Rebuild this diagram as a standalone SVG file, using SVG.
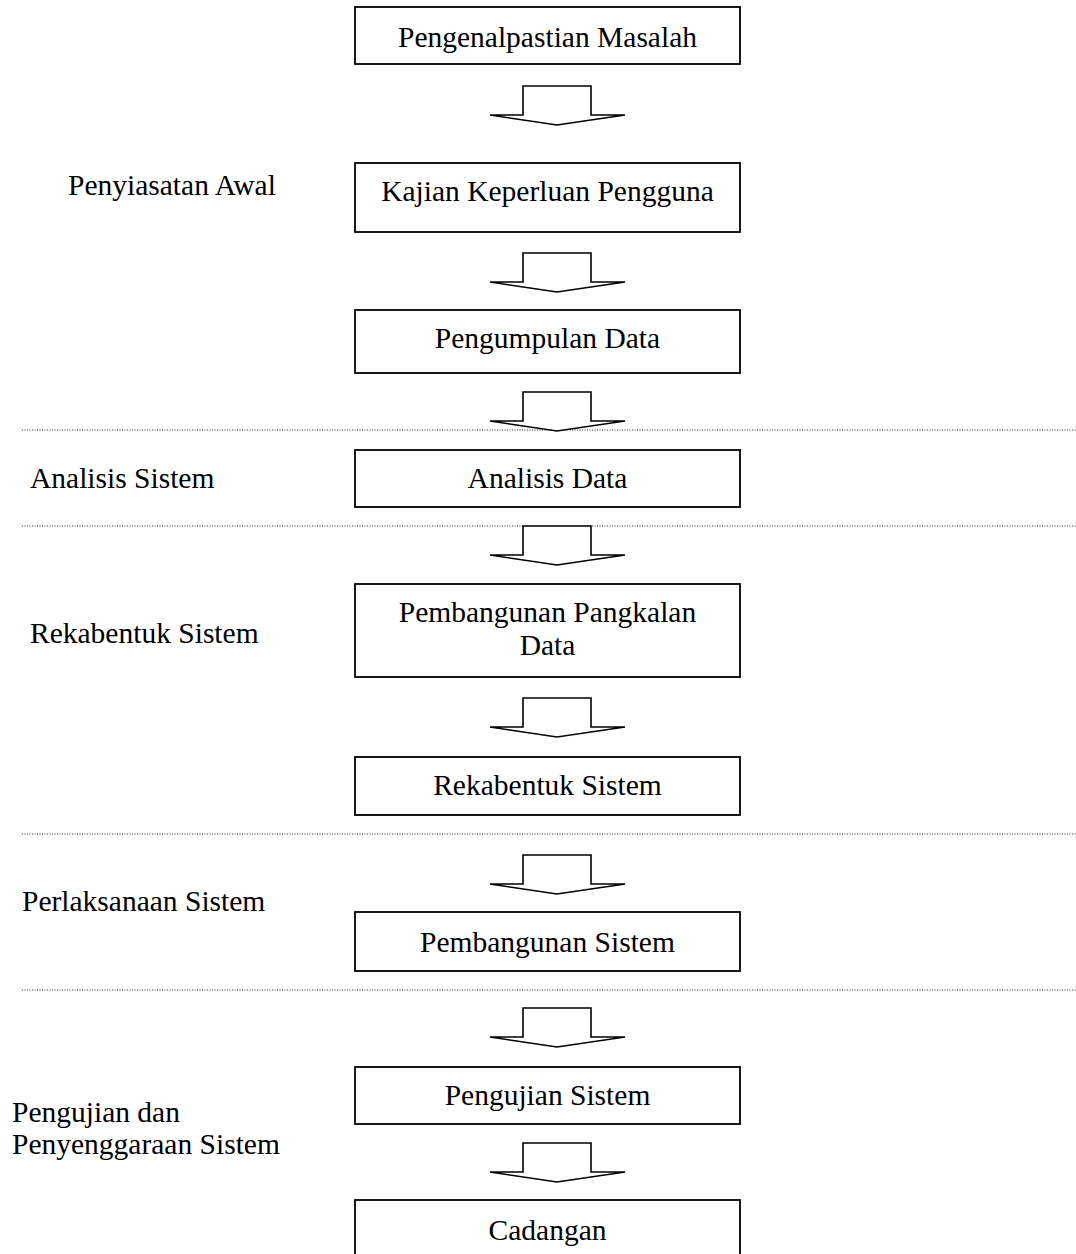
<svg xmlns="http://www.w3.org/2000/svg" width="1076" height="1254" viewBox="0 0 1076 1254">
<style>
  .box { fill: #ffffff; stroke: #000000; stroke-width: 1.8; }
  .arrow { fill: #ffffff; stroke: #000000; stroke-width: 1.6; stroke-linejoin: miter; }
  .sep { stroke: #333333; stroke-width: 1; stroke-dasharray: 1 1.5; fill: none; }
  text { font-family: "Liberation Serif", "Times New Roman", serif; font-size: 29.5px; fill: #000000; }
  .c { text-anchor: middle; }
</style>
<defs>
  <polygon id="bigArrow" class="arrow" points="523,0 591,0 591,29 625,29 557,39 490,29 523,29"/>
</defs>
<rect width="1076" height="1254" fill="#ffffff"/>

<g id="separators">
  <line class="sep" x1="22" y1="430" x2="1076" y2="430"/>
  <line class="sep" x1="22" y1="526" x2="1076" y2="526"/>
  <line class="sep" x1="22" y1="834" x2="1076" y2="834"/>
  <line class="sep" x1="22" y1="990" x2="1076" y2="990"/>
</g>

<g id="phase-labels">
  <text id="lbl-penyiasatan" x="68" y="195">Penyiasatan Awal</text>
  <text id="lbl-analisis" x="30" y="488">Analisis Sistem</text>
  <text id="lbl-rekabentuk" x="30" y="643">Rekabentuk Sistem</text>
  <text id="lbl-perlaksanaan" x="22" y="911">Perlaksanaan Sistem</text>
  <text id="lbl-pengujian" x="12" y="1122">Pengujian dan</text>
  <text id="lbl-pengujian2" x="12" y="1154">Penyenggaraan Sistem</text>
</g>

<g id="connectors">
  <use href="#bigArrow" y="86"/>
  <use href="#bigArrow" y="253"/>
  <use href="#bigArrow" y="392"/>
  <use href="#bigArrow" y="526"/>
  <use href="#bigArrow" y="698"/>
  <use href="#bigArrow" y="855"/>
  <use href="#bigArrow" y="1008"/>
  <use href="#bigArrow" y="1143"/>
</g>

<g id="n1">
  <rect class="box" x="355" y="7" width="385" height="57"/>
  <text class="c" x="547.5" y="47">Pengenalpastian Masalah</text>
</g>
<g id="n2">
  <rect class="box" x="355" y="163" width="385" height="69"/>
  <text class="c" x="547.5" y="201">Kajian Keperluan Pengguna</text>
</g>
<g id="n3">
  <rect class="box" x="355" y="310" width="385" height="63"/>
  <text class="c" x="547.5" y="348">Pengumpulan Data</text>
</g>
<g id="n4">
  <rect class="box" x="355" y="450" width="385" height="57"/>
  <text class="c" x="547.5" y="488">Analisis Data</text>
</g>
<g id="n5">
  <rect class="box" x="355" y="584" width="385" height="93"/>
  <text class="c" x="547.5" y="622">Pembangunan Pangkalan</text>
  <text class="c" x="547.5" y="655">Data</text>
</g>
<g id="n6">
  <rect class="box" x="355" y="757" width="385" height="58"/>
  <text class="c" x="547.5" y="795">Rekabentuk Sistem</text>
</g>
<g id="n7">
  <rect class="box" x="355" y="912" width="385" height="59"/>
  <text class="c" x="547.5" y="952">Pembangunan Sistem</text>
</g>
<g id="n8">
  <rect class="box" x="355" y="1067" width="385" height="57"/>
  <text class="c" x="547.5" y="1105">Pengujian Sistem</text>
</g>
<g id="n9">
  <rect class="box" x="355" y="1200" width="385" height="70"/>
  <text class="c" x="547.5" y="1240">Cadangan</text>
</g>
</svg>
